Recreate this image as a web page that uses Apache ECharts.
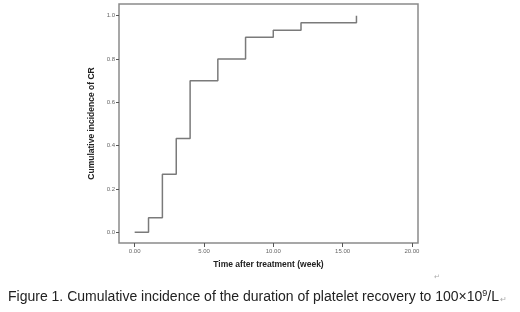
<!DOCTYPE html>
<html>
<head>
<meta charset="utf-8">
<script src="https://cdn.jsdelivr.net/npm/echarts@6/dist/echarts.min.js"></script>
<style>
  html, body { margin: 0; padding: 0; background: #fff; }
  #chart { width: 520px; height: 312px; }
</style>
</head>
<body>
<div id="chart"></div>
<script>
// 时间（周）与累计发生率
var weeks = [0, 1, 2, 3, 4, 6, 8, 10, 12, 16];
var incidence = [0, 0.067, 0.267, 0.433, 0.700, 0.800, 0.900, 0.933, 0.967, 1.0];
var xTicks = [0, 5, 10, 15, 20];
var yTicks = [0, 0.2, 0.4, 0.6, 0.8, 1.0];

var myChart = echarts.init(document.getElementById('chart'));

var points = weeks.map(function (w, i) { return [w, incidence[i]]; });

var option = {
  animation: false,
  title: {
    text: 'Figure 1. Cumulative incidence of the duration of platelet recovery to 100×10{sup|9}/L{mark|↵}',
    left: 3,
    top: 284,
    textStyle: {
      fontFamily: 'Liberation Sans',
      fontSize: 14,
      fontWeight: 'normal',
      color: '#222',
      rich: {
        sup: { fontSize: 9, verticalAlign: 'top', padding: [0, 0, 8, 0], color: '#222', fontFamily: 'Liberation Sans' },
        mark: { fontSize: 8, color: '#aaa', padding: [4, 0, 0, 1] }
      }
    }
  },
  graphic: [{
    type: 'text',
    left: 434,
    top: 274,
    style: { text: '↵', fontSize: 7, fill: '#aaa' }
  }],
  grid: {
    left: 119,
    top: 4,
    right: 102,
    bottom: 69,
    show: true,
    borderColor: '#8a8a8a',
    borderWidth: 1.5
  },
  xAxis: {
    type: 'value',
    min: -1.13,
    max: 20.44,
    name: 'Time after treatment (week)',
    nameLocation: 'middle',
    nameGap: 17,
    nameTextStyle: { fontFamily: 'Liberation Sans', fontSize: 8.5, fontWeight: 'bold', color: '#222' },
    axisLine: { show: false, onZero: false },
    splitLine: { show: false },
    axisTick: { show: true, customValues: xTicks, length: 4, lineStyle: { color: '#555' } },
    axisLabel: {
      customValues: xTicks,
      margin: 5,
      fontSize: 6,
      color: '#666',
      fontFamily: 'Liberation Sans',
      formatter: function (v) { return v.toFixed(2); }
    }
  },
  yAxis: {
    type: 'value',
    min: -0.05,
    max: 1.054,
    name: 'Cumulative incidence of CR',
    nameLocation: 'middle',
    nameRotate: 90,
    nameGap: 20,
    nameTextStyle: { fontFamily: 'Liberation Sans', fontSize: 8.5, fontWeight: 'bold', color: '#222' },
    axisLine: { show: false, onZero: false },
    splitLine: { show: false },
    axisTick: { show: true, customValues: yTicks, length: 3, lineStyle: { color: '#555' } },
    axisLabel: {
      customValues: yTicks,
      margin: 4,
      fontSize: 6,
      color: '#666',
      fontFamily: 'Liberation Sans',
      formatter: function (v) { return v.toFixed(1); }
    }
  },
  series: [{
    type: 'line',
    step: 'end',
    data: points,
    symbol: 'none',
    lineStyle: { color: '#7a7a7a', width: 1.5 }
  }]
};

myChart.setOption(option);
</script>
</body>
</html>
